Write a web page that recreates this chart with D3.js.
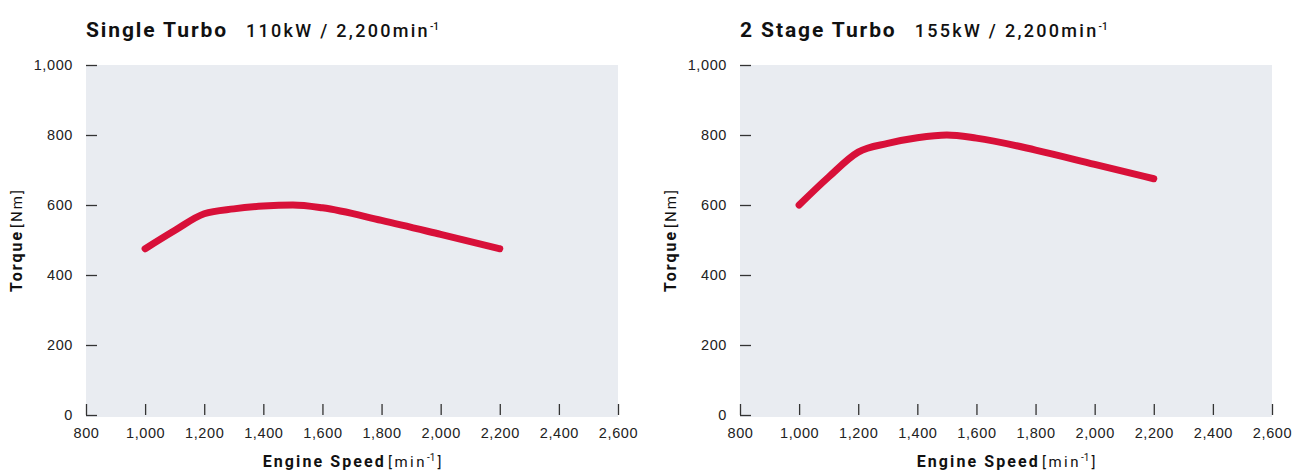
<!DOCTYPE html>
<meta charset="utf-8">
<title>Torque curves</title>

<style>
    body { margin: 0; background: #fff; }
    svg { display: block; font-family: Roboto, "DejaVu Sans", sans-serif; }
    .plotbg { fill: #e9ecf1; }
    .tick-mark { stroke: #333; stroke-width: 1.3px; }
    .tick-label { font-size: 14.5px; letter-spacing: 0.6px; fill: #222; }
    .curve { fill: none; stroke: #d81039; stroke-width: 7px; stroke-linecap: round; stroke-linejoin: round; }
</style>

<body>
<script src="https://d3js.org/d3.v7.min.js"></script>

<script>
// engine speed (min-1) the torque was read at
var rpm = [1000, 1100, 1200, 1300, 1400, 1500, 1600, 1800, 2000, 2200];

// torque values (Nm)
var singleTorque = [475, 527, 575, 589, 597, 600, 592, 556, 516, 475];
var twoStageTorque = [600, 680, 751, 776, 792, 800, 791, 757, 716, 675];

var xTicks = [800, 1000, 1200, 1400, 1600, 1800, 2000, 2200, 2400, 2600];
var yTicks = [0, 200, 400, 600, 800, 1000];

var titles = ["Single Turbo", "2 Stage Turbo"];
var powers = ["110kW / 2,200min", "155kW / 2,200min"];

var W = 1292, H = 474;
var plotW = 532, plotH = 350;
var panelLeft = [86, 740], plotTop = 65;

var svg = d3.select("body").append("svg")
    .attr("width", W)
    .attr("height", H);

var fmt = d3.format(",");

function drawPanel(i, torque) {
    var g = svg.append("g")
        .attr("transform", "translate(" + panelLeft[i] + "," + plotTop + ")");

    var x = d3.scaleLinear().domain([800, 2600]).range([0, plotW]);
    var y = d3.scaleLinear().domain([0, 1000]).range([plotH, 0]);

    // grey plot area
    g.append("rect")
        .attr("class", "plotbg")
        .attr("x", 0).attr("y", 0)
        .attr("width", plotW).attr("height", plotH + 2);

    // y ticks: short inward dashes, labels to the left
    var yAxis = d3.axisLeft(y).tickValues(yTicks).tickSize(-11).tickPadding(13).tickFormat(fmt);
    var ya = g.append("g").call(yAxis);
    ya.select(".domain").remove();
    ya.selectAll("line").attr("class", "tick-mark").attr("stroke", null);
    ya.selectAll("text").attr("class", "tick-label").attr("fill", null);

    // x ticks: short upward marks from the baseline, labels below
    var xAxis = d3.axisBottom(x).tickValues(xTicks).tickSize(-11).tickPadding(8).tickFormat(fmt);
    var xa = g.append("g").attr("transform", "translate(0," + plotH + ")").call(xAxis);
    xa.select(".domain").remove();
    xa.selectAll("line").attr("class", "tick-mark").attr("stroke", null);
    xa.selectAll("text").attr("class", "tick-label").attr("fill", null).attr("dy", "1.0em");

    // the torque curve
    var line = d3.line()
        .curve(d3.curveMonotoneX)
        .x(function(d, k) { return x(rpm[k]); })
        .y(function(d) { return y(d); });

    g.append("path")
        .datum(torque)
        .attr("class", "curve")
        .attr("d", line);

    // title
    var t = g.append("text")
        .attr("x", 0).attr("y", -28)
        .style("fill", "#111");
    t.append("tspan").style("font-size", "21px").style("font-weight", "700")
        .style("letter-spacing", "1.9px").text(titles[i]);
    t.append("tspan").attr("dx", 18).style("font-size", "18px").style("font-weight", "500")
        .style("letter-spacing", "2.3px").text(powers[i]);
    t.append("tspan").attr("dy", -7).style("font-size", "10px").style("font-weight", "500").text("-1");

    // x axis label
    var xl = g.append("text")
        .attr("x", plotW / 2).attr("y", plotH + 52)
        .attr("text-anchor", "middle")
        .style("fill", "#111");
    xl.append("tspan").style("font-size", "16px").style("font-weight", "700")
        .style("letter-spacing", "2.1px").text("Engine Speed");
    xl.append("tspan").attr("dx", 2).style("font-size", "15px").style("letter-spacing", "2.5px").text("[min");
    xl.append("tspan").attr("dy", -6).style("font-size", "10px").text("-1");
    xl.append("tspan").attr("dy", 6).attr("dx", 2).style("font-size", "15px").text("]");

    // y axis label
    var yl = g.append("text")
        .attr("transform", "translate(-64," + (plotH / 2) + ") rotate(-90)")
        .attr("text-anchor", "middle")
        .style("fill", "#111");
    yl.append("tspan").style("font-size", "16px").style("font-weight", "700")
        .style("letter-spacing", "2px").text("Torque");
    yl.append("tspan").attr("dx", 2).style("font-size", "15px")
        .style("letter-spacing", "2px").text("[Nm]");
}

drawPanel(0, singleTorque);
drawPanel(1, twoStageTorque);
</script>
</body>
